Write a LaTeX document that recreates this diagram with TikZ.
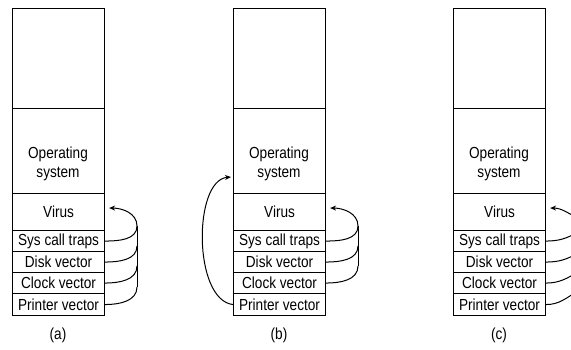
\documentclass[tikz,border=0pt]{standalone}
\usepackage{fontspec}
\setmainfont{Liberation Sans}[FakeStretch=0.85]
\usetikzlibrary{arrows.meta}
\tikzset{
  cell/.style={draw, line width=1.1pt, rectangle, inner sep=0pt, minimum width=92pt,
    anchor=north west, font=\fontsize{16}{18}\selectfont},
  txt/.style={inner sep=0pt, align=center, font=\fontsize{16}{19.5}\selectfont},
  link/.style={line width=1pt},
  arr/.style={link, -{Stealth[length=6pt,width=5pt]}}
}
\newcommand\mempanel[3]{%
  \node[cell, minimum height=100pt] (#1top) at (#2,8) {};
  \node[cell, minimum height=85pt] (#1os) at (#2,108) {};
  \node[txt] (#1ostxt) at (#2+46,164) {Operating\\system};
  \node[cell, minimum height=37pt] (#1vir) at (#2,193) {Virus};
  \node[cell, minimum height=21pt] (#1sys) at (#2,230) {Sys call traps};
  \node[cell, minimum height=21pt] (#1dsk) at (#2,251) {Disk vector};
  \node[cell, minimum height=21pt] (#1clk) at (#2,272) {Clock vector};
  \node[cell, minimum height=22pt] (#1prn) at (#2,293) {Printer vector};
  \node[txt] (#1lbl) at (#2+46,335) {#3};
}
\begin{document}
\begin{tikzpicture}[x=1pt,y=-1pt]
\useasboundingbox (0,0) rectangle (571,349);
\clip (0,0) rectangle (571,349);
\fill[white] (0,0) rectangle (571,349);

\mempanel{a}{12}{(a)}
\mempanel{b}{233}{(b)}
\mempanel{c}{453}{(c)}

% ---- panel (a)
\coordinate (avt) at ([xshift=4pt,yshift=4pt]avir.east);
\coordinate (as1) at (137,226);
\coordinate (as2) at (137,246);
\coordinate (as3) at (137,266);
\coordinate (as4) at (137,287);
\draw[arr] (asys.east) to[out=0,in=-90] (as1) to[out=90,in=0] (avt);
\draw[link] (as1) -- (as4);
\draw[link] (adsk.east) to[out=0,in=-90] (as2);
\draw[link] (aclk.east) to[out=0,in=-90] (as3);
\draw[link] (aprn.east) to[out=0,in=-90] (as4);

% ---- panel (b)
\coordinate (bvt) at ([xshift=4pt,yshift=4pt]bvir.east);
\coordinate (bs1) at (358,226);
\coordinate (bs2) at (358,246);
\coordinate (bs3) at (358,266);
\draw[arr] (bsys.east) to[out=0,in=-90] (bs1) to[out=90,in=0] (bvt);
\draw[link] (bs1) -- (bs3);
\draw[link] (bdsk.east) to[out=0,in=-90] (bs2);
\draw[link] (bclk.east) to[out=0,in=-90] (bs3);
\coordinate (bot) at (231,177);
\draw[arr] (bprn.west) .. controls (193,300) and (193,180) .. (bot);

% ---- panel (c)
\coordinate (cvt) at ([xshift=4pt,yshift=4pt]cvir.east);
\coordinate (cv0) at (578,218);
\coordinate (c1) at (578,232);
\coordinate (c2) at (578,253);
\coordinate (c3) at (578,272);
\coordinate (c4) at (578,291);
\draw[arr] (cv0) to[out=155,in=0] (cvt);
\draw[link] (csys.east) to[out=0,in=-150] (c1);
\draw[link] (cdsk.east) to[out=0,in=-150] (c2);
\draw[link] (cclk.east) to[out=0,in=-150] (c3);
\draw[link] (cprn.east) to[out=0,in=-150] (c4);
\end{tikzpicture}
\end{document}
